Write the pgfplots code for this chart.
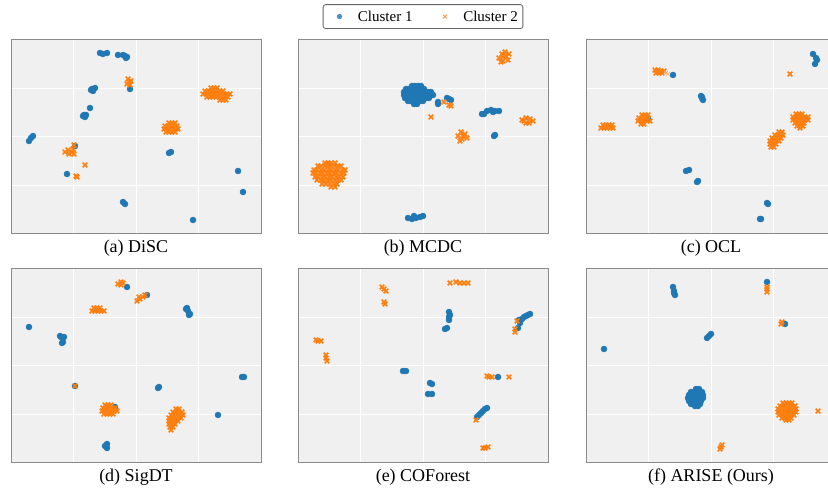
\documentclass[border=0pt]{standalone}
\usepackage{pgfplots}
\pgfplotsset{compat=1.18}
\usepackage{fontspec}
\setmainfont{Liberation Serif}

\definecolor{c1}{HTML}{1F77B4}
\definecolor{c2}{HTML}{FF7F0E}
\definecolor{bgc}{HTML}{F0F0F0}
\definecolor{framec}{HTML}{8A8A8A}

\pgfplotsset{
  panel/.style={
    width=250pt, height=194pt, scale only axis,
    anchor=south west,
    xmin=0, xmax=250, ymin=0, ymax=194,
    xtick={62.5,125,187.5}, ytick={48.5,97,145.5},
    xticklabels={}, yticklabels={},
    major tick length=0pt,
    grid=major, grid style={white, line width=1pt},
    axis background/.style={fill=bgc},
    axis line style={draw=framec, line width=1pt},
    xlabel style={at={(axis description cs:0.5,0)}, anchor=north,
      yshift=-6pt, inner sep=0pt, font=\fontsize{18}{21}\selectfont},
  },
  blue pts/.style={only marks, mark=*, mark size=3pt, color=c1, forget plot},
  orange pts/.style={only marks, mark=x, mark size=3.2pt, color=c2,
    mark options={line width=1.5pt}, forget plot},
}

\begin{document}
\begin{tikzpicture}[x=1pt,y=1pt]
\useasboundingbox (0,0) rectangle (828,489);

% (a) DiSC
\begin{axis}[panel, at={(11,255)}, xlabel={(a) DiSC}]
\addplot[blue pts] coordinates {
(89,181)(96,181)(92,180)(107,179)(112,179)(114,178)(116,177)(115,176)
(81,145)(84,146)(82,143)(80,144)(79,126)(75,119)(72,118)(74,117)(73,119)
(22,98)(18,93)(20,96)(119,145)(158,81)(160,82)(56,60)(112,32)(114,30)
(182,14)(227,63)(232,42)(64,88)
};
\addplot[orange pts] coordinates {
(118,152)(117,155)(119,149)(120,153)(116,150)
(200,146)(203,146)(206,146)
(194,143)(197,143)(200,143)(203,143)(206,143)(209,143)(212,143)
(192,140)(195,140)(198,140)(201,140)(204,140)(207,140)(210,140)(213,140)(216,140)(219,140)
(196,137)(199,137)(202,137)(205,137)(208,137)(211,137)(214,137)(217,137)
(209,134)(212,134)(215,134)
(158,111)(161,111)(164,111)
(154,108)(157,108)(160,108)(163,108)(166,108)
(153,105)(156,105)(159,105)(162,105)(165,105)(167,105)
(155,102)(158,102)(161,102)(164,102)
(63,89)(54,82)(57,84)(58,80)(61,82)(62,85)(63,80)(74,69)(66,57)(65,58)
};
\end{axis}

% (b) MCDC
\begin{axis}[panel, at={(298,255)}, xlabel={(b) MCDC},
  legend columns=2,
  legend style={at={(0.5,1.057)}, anchor=south, draw=black!60,
    line width=0.8pt, rounded corners=2.5pt, fill=white,
    font=\fontsize{15}{17}\selectfont, inner xsep=3pt, inner ysep=4pt,
    /tikz/every even column/.append style={column sep=17pt}},
  legend image code/.code={%
    \path (0pt,0pt) (29pt,0pt);
    \draw[#1] plot coordinates {(13pt,0pt)};},
  legend cell align=left]
\addlegendimage{only marks, mark=*, mark size=2.2pt, color=c1!80}
\addlegendentry{Cluster 1}
\addlegendimage{only marks, mark=x, mark size=2.8pt, color=c2!80,
  mark options={line width=0.9pt}}
\addlegendentry{Cluster 2}
\addplot[blue pts] coordinates {
(114,148)(117,148)(120,148)(123,148)
(108,145)(111,145)(114,145)(117,145)(120,145)(123,145)(126,145)
(106,142)(109,142)(112,142)(115,142)(118,142)(121,142)(124,142)(127,142)(130,142)(133,142)
(106,139)(109,139)(112,139)(115,139)(118,139)(121,139)(124,139)(127,139)(130,139)(133,139)(135,139)
(107,136)(110,136)(113,136)(116,136)(119,136)(122,136)(125,136)(128,136)(131,136)
(110,133)(113,133)(116,133)(119,133)(122,133)(125,133)
(116,130)(119,130)
(151,135)(153,134)(149,136)(140,130)(140,132)(184,120)(186,120)
(189,123)(193,124)(197,123)(201,123)(195,122)(196,98)(197,99)
(110,16)(114,15)(118,16)(122,17)(125,18)(116,18)
};
\addplot[orange pts] coordinates {
(201,176)(204,180)(205,173)(208,178)(210,174)(207,182)(203,172)(211,180)(205,177)
(224,114)(228,116)(228,111)(232,115)(235,113)(231,111)(226,113)
(160,98)(163,102)(164,95)(167,100)(169,96)(162,93)(165,98)
(151,129)(153,128)(146,132)(133,117)
(27,71)(30,71)(33,71)(37,71)
(20,68)(23,68)(27,68)(30,68)(33,68)(37,68)(40,68)(43,68)
(16,64)(19,64)(23,64)(26,64)(30,64)(33,64)(37,64)(40,64)(44,64)(47,64)
(15,61)(18,61)(22,61)(25,61)(29,61)(32,61)(36,61)(39,61)(43,61)(46,61)
(17,57)(20,57)(24,57)(27,57)(31,57)(34,57)(38,57)(41,57)(45,57)
(19,54)(23,54)(26,54)(30,54)(33,54)(37,54)(40,54)(43,54)
(24,50)(28,50)(32,50)(36,50)(39,50)
(33,47)(37,47)
};
\end{axis}

% (c) OCL
\begin{axis}[panel, at={(586,255)}, xlabel={(c) OCL}]
\addplot[blue pts] coordinates {
(227,180)(231,174)(229,170)(230,176)(87,159)(116,136)(115,138)(117,134)
(116,137)(100,63)(103,64)(111,52)(112,53)(181,31)(182,30)(175,15)(174,15)
(62,115)
};
\addplot[orange pts] coordinates {
(69,164)(72,164)(75,163)(78,163)(70,161)(73,161)(76,161)(204,160)
(56,119)(59,119)(62,119)(53,116)(56,116)(59,116)(62,116)
(52,113)(55,113)(58,113)(61,113)(64,113)(55,110)(58,110)
(17,109)(20,109)(23,109)(26,109)(15,106)(18,106)(21,106)(24,106)(27,106)
(210,120)(213,120)(216,120)
(207,117)(210,117)(213,117)(216,117)(219,117)(222,117)
(207,114)(210,114)(213,114)(216,114)(219,114)(222,114)
(209,111)(212,111)(215,111)(218,111)(211,108)(214,108)(217,108)(214,106)
(193,102)(196,102)(189,99)(192,99)(195,99)(197,99)
(186,96)(189,96)(192,96)(195,96)(184,93)(187,93)(190,93)(193,93)
(184,90)(187,90)(190,90)(185,87)(188,87)
};
\addplot[only marks, mark=x, mark size=2.5pt, color=c2!60, forget plot]
coordinates {(80,161)(82,160)};
\end{axis}

% (d) SigDT
\begin{axis}[panel, at={(11,26)}, xlabel={(d) SigDT}]
\addplot[blue pts] coordinates {
(18,136)(49,127)(53,126)(51,120)(52,121)(50,126)(116,176)(136,168)
(176,155)(178,148)(177,152)(175,154)(179,149)(147,75)(148,76)
(231,86)(233,86)(207,48)(95,17)(96,15)(96,19)(94,17)(104,56)(64,77)
};
\addplot[orange pts] coordinates {
(107,179)(110,181)(110,178)(112,180)
(126,162)(129,164)(132,166)(134,168)(128,166)
(83,155)(86,155)(89,155)(81,152)(84,152)(87,152)(90,152)(93,152)
(64,77)
(94,58)(97,58)(100,58)(92,55)(95,55)(98,55)(101,55)(104,55)
(91,52)(94,52)(97,52)(100,52)(103,52)(106,52)(93,49)(96,49)(99,49)(102,49)
(165,54)(168,54)(162,51)(165,51)(168,51)(171,51)
(160,48)(163,48)(166,48)(169,48)(172,48)
(158,45)(161,45)(164,45)(167,45)(170,45)
(158,42)(161,42)(164,42)(167,42)(158,39)(161,39)(164,39)
(159,36)(162,36)(160,33)
};
\end{axis}

% (e) COForest
\begin{axis}[panel, at={(298,26)}, xlabel={(e) COForest}]
\addplot[blue pts] coordinates {
(151,151)(151,143)(147,134)(149,135)(152,148)(151,146)
(230,148)(226,146)(222,140)(220,135)(221,143)(228,147)(232,149)(224,144)
(105,92)(108,92)(132,80)(134,79)(130,69)(134,69)
(179,46)(183,50)(187,54)(189,55)(181,48)(185,52)(200,86)
};
\addplot[orange pts] coordinates {
(84,176)(88,172)(86,174)(87,159)(86,161)
(152,180)(162,180)(170,180)(158,181)(166,180)
(20,122)(23,122)(18,123)(28,105)(28,108)(29,102)
(217,131)(217,134)(219,142)(191,86)(194,86)(189,87)(211,86)
(178,43)(187,15)(190,16)(185,15)
};
\end{axis}

% (f) ARISE (Ours)
\begin{axis}[panel, at={(586,26)}, xlabel={(f) ARISE (Ours)}]
\addplot[blue pts] coordinates {
(88,172)(87,176)(89,168)(88,170)(181,181)(123,127)(121,125)(125,129)
(18,114)(199,139)
(110,74)(113,74)(105,71)(108,71)(111,71)(114,71)(116,71)
(103,68)(106,68)(109,68)(112,68)(115,68)(117,68)
(102,65)(105,65)(108,65)(111,65)(114,65)(117,65)
(103,62)(106,62)(109,62)(112,62)(115,62)
(105,59)(108,59)(111,59)(114,59)(109,57)(112,57)
};
\addplot[orange pts] coordinates {
(181,174)(181,176)(181,171)(195,139)(196,141)
(197,60)(200,60)(203,60)(206,60)
(194,57)(197,57)(200,57)(203,57)(206,57)(209,57)
(192,54)(195,54)(198,54)(201,54)(204,54)(207,54)(210,54)
(192,51)(195,51)(198,51)(201,51)(204,51)(207,51)(210,51)
(193,48)(196,48)(199,48)(202,48)(205,48)(208,48)
(196,45)(199,45)(202,45)(205,45)(200,43)(203,43)
(232,52)(135,16)(136,18)(134,14)
};
\end{axis}
\end{tikzpicture}
\end{document}
